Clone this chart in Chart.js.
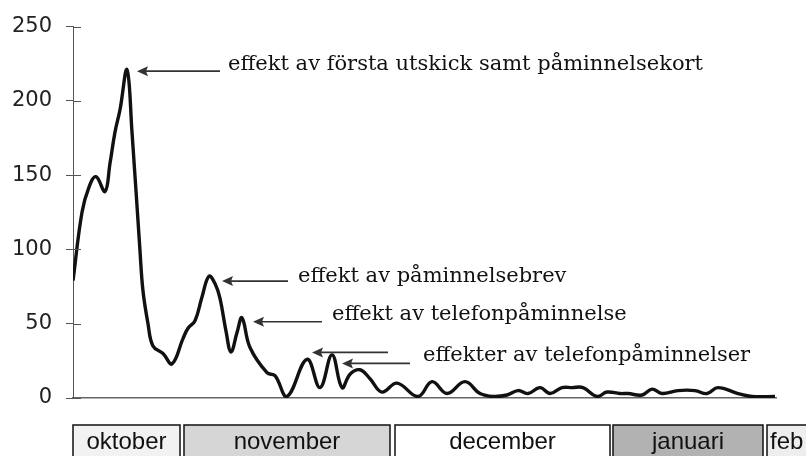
<!DOCTYPE html>
<html>
<head>
<meta charset="utf-8">
<script src="https://cdn.jsdelivr.net/npm/chart.js@4.4.0/dist/chart.umd.min.js"></script>
<style>
  html, body { margin: 0; padding: 0; background: #fff; }
  #wrap { width: 806px; height: 456px; position: relative; overflow: hidden; }
</style>
</head>
<body>
<div id="wrap"><canvas id="chart" width="806" height="456"></canvas></div>
<script>
// position along the time axis (day index from start of oktober) and number of answers
const days = [0, 1.8, 3.2, 4.6, 6.4, 7.4, 8.4, 9.4, 10.8, 11.8, 13.4, 14, 15, 16, 18, 19.8, 22, 23, 24.4, 25.8,
  27.2, 28.4, 29.4, 30.6, 31.6, 32.8, 33.8, 35.4, 38.8, 40.4, 42.8, 46.8, 49.4, 51.8, 53.8, 55.4,
  57.4, 59.4, 61.8, 64.8, 69, 71.8, 74.8, 78.4, 81.4, 84, 86.8, 89, 91, 93.4, 95.4, 97.8, 99.8,
  102, 104.8, 106.8, 109.4, 111, 113.8, 115.8, 117.8, 121, 124.4, 126.8, 129, 133, 135.8, 140.4];
const values = [79, 125, 142, 149, 139, 158, 179, 194, 221, 179, 99, 72, 50, 35, 30, 23, 40, 47, 52, 68,
  82, 77, 67, 45, 31, 44, 54, 34, 17, 15, 1, 26, 7, 29, 7, 16,
  19, 13, 4, 10, 1, 11, 3, 11, 3, 1, 2, 5, 3, 7, 3, 7, 7,
  7, 1, 4, 3, 3, 2, 6, 3, 5, 5, 3, 7, 3, 1, 1];

const yTicks = [0, 50, 100, 150, 200, 250];

// month bands under the axis (in the same day units)
const months = ['oktober', 'november', 'december', 'januari', 'feb'];
const monthStart = [0, 22.2, 64.4, 108, 138.8];
const monthEnd = [21.4, 63.4, 107.4, 138, 150];
const monthFill = ['#f2f2f2', '#d6d6d6', '#ffffff', '#b2b2b2', '#eeeeee'];

// annotations: texts and arrows (tip at day/value, tail at day)
const noteTexts = ['effekt av första utskick samt påminnelsekort', 'effekt av påminnelsebrev',
  'effekt av telefonpåminnelse', 'effekter av telefonpåminnelser'];
const noteDay = [31, 45, 51.8, 70];
const noteVal = [224.5, 82, 56, 28.5];
const arrowTipDay = [12.8, 29.8, 36, 47.8, 53.8];
const arrowTipVal = [220, 78.7, 51.3, 30.7, 23.3];
const arrowTailDay = [29.4, 43, 49.8, 63, 67.4];

const extras = {
  id: 'extras',
  afterDraw(chart) {
    const ctx = chart.ctx;
    const x = chart.scales.x, y = chart.scales.y;
    const area = chart.chartArea;
    ctx.save();

    // tick marks reaching into the plot
    ctx.strokeStyle = '#555';
    ctx.lineWidth = 1;
    yTicks.forEach(v => {
      const py = Math.round(y.getPixelForValue(v)) + 0.5;
      ctx.beginPath();
      ctx.moveTo(area.left, py);
      ctx.lineTo(area.left + 8, py);
      ctx.stroke();
    });

    // arrows
    ctx.strokeStyle = '#333';
    ctx.fillStyle = '#333';
    ctx.lineWidth = 1.6;
    arrowTipDay.forEach((d, i) => {
      const tx = x.getPixelForValue(d);
      const ty = y.getPixelForValue(arrowTipVal[i]);
      const ex = x.getPixelForValue(arrowTailDay[i]);
      ctx.beginPath();
      ctx.moveTo(tx + 8, ty);
      ctx.lineTo(ex, ty);
      ctx.stroke();
      ctx.beginPath();
      ctx.moveTo(tx, ty);
      ctx.lineTo(tx + 11, ty - 5);
      ctx.lineTo(tx + 9, ty);
      ctx.lineTo(tx + 11, ty + 5);
      ctx.closePath();
      ctx.fill();
    });

    // annotation texts
    ctx.fillStyle = '#111';
    ctx.font = '21px "DejaVu Serif"';
    ctx.textBaseline = 'middle';
    ctx.textAlign = 'left';
    noteTexts.forEach((t, i) => {
      ctx.fillText(t, x.getPixelForValue(noteDay[i]), y.getPixelForValue(noteVal[i]));
    });

    // month boxes
    const top = 425, h = 36;
    ctx.font = '24px "Liberation Sans", Arial, sans-serif';
    ctx.textAlign = 'center';
    months.forEach((m, i) => {
      const x0 = x.getPixelForValue(monthStart[i]);
      const x1 = x.getPixelForValue(monthEnd[i]);
      ctx.fillStyle = monthFill[i];
      ctx.fillRect(x0, top, x1 - x0, h);
      ctx.strokeStyle = '#111';
      ctx.lineWidth = 1.5;
      ctx.strokeRect(x0, top, x1 - x0, h);
      ctx.fillStyle = '#111';
      if (i === months.length - 1) {
        ctx.textAlign = 'left';
        ctx.fillText(m, x0 + 3, top + 17);
      } else {
        ctx.fillText(m, (x0 + x1) / 2, top + 17);
      }
    });
    ctx.restore();
  }
};

new Chart(document.getElementById('chart'), {
  type: 'line',
  data: {
    datasets: [{
      data: days.map((d, i) => ({ x: d, y: values[i] })),
      borderColor: '#111',
      borderWidth: 3.4,
      pointRadius: 0,
      tension: 0.4,
      fill: false
    }]
  },
  options: {
    responsive: false,
    animation: false,
    layout: { padding: { top: 24, right: 30, left: 0, bottom: 0 } },
    plugins: { legend: { display: false }, tooltip: { enabled: false } },
    scales: {
      x: {
        type: 'linear',
        min: 0,
        max: 140.6,
        ticks: { display: false },
        grid: { display: false },
        border: { display: true, color: '#666', width: 1.5 },
        afterFit: s => { s.height = 58; }
      },
      y: {
        min: 0,
        max: 250,
        afterBuildTicks: s => { s.ticks = yTicks.map(v => ({ value: v })); },
        ticks: { color: '#222', padding: 14, font: { family: '"DejaVu Sans", sans-serif', size: 21 } },
        grid: { drawOnChartArea: false, tickLength: 7, color: '#555', lineWidth: 1 },
        border: { display: true, color: '#555', width: 1 },
        afterFit: s => { s.width = 73; }
      }
    }
  },
  plugins: [extras]
});
</script>
</body>
</html>
